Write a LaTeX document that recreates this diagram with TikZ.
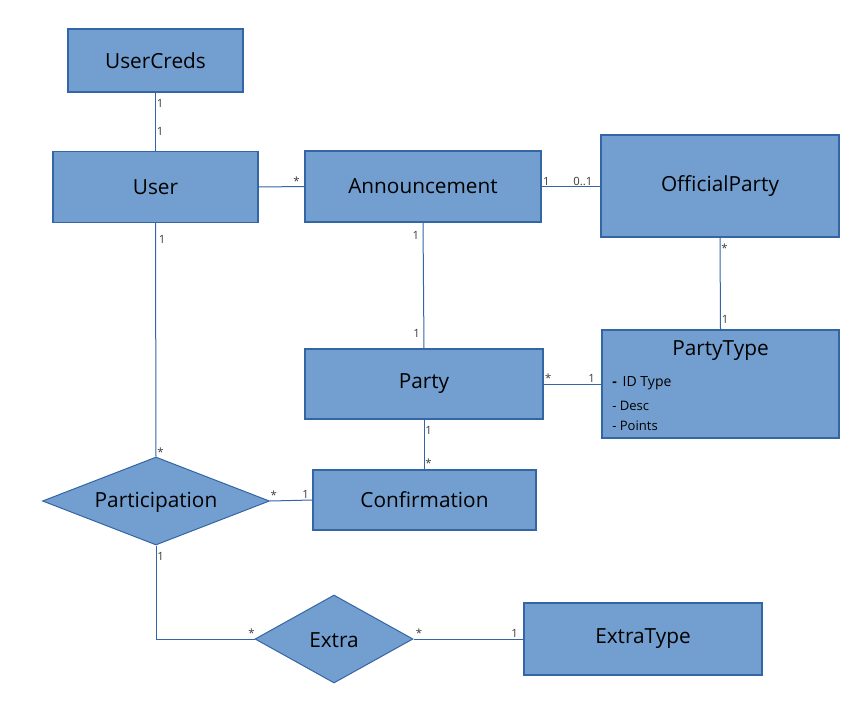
\documentclass[tikz,border=0pt]{standalone}
\usepackage{fontspec}
\setmainfont{Open Sans}
\usetikzlibrary{shapes.geometric}
\definecolor{boxfill}{HTML}{729FCF}
\definecolor{boxline}{HTML}{3465A4}
\definecolor{lblcol}{HTML}{3A3A3A}
\tikzset{
  ent/.style={draw=boxline, fill=boxfill, line width=0.9pt, inner sep=0pt, font=\fontsize{15.6}{18}\selectfont, text=black},
  rel/.style={draw=boxline, fill=boxfill, line width=0.75pt, diamond, inner sep=0pt, font=\fontsize{15.6}{18}\selectfont, text=black},
  conn/.style={draw=boxline, line width=0.75pt},
  lbl/.style={font=\fontsize{8.5}{9}\selectfont, text=lblcol, inner sep=0.6pt}
}
\begin{document}
\begin{tikzpicture}[x=0.75pt, y=-0.75pt]
\useasboundingbox (0,0) rectangle (861,721);
% entities
\node[ent, minimum width=175*0.75pt, minimum height=63*0.75pt] (uc) at (155.5,60.5) {\raisebox{-1pt}{UserCreds}};
\node[ent, minimum width=205*0.75pt, minimum height=71*0.75pt] (user) at (155.5,187) {\raisebox{-1pt}{User}};
\node[ent, minimum width=236*0.75pt, minimum height=71*0.75pt] (ann) at (423,186.5) {\raisebox{-1pt}{Announcement}};
\node[ent, minimum width=238*0.75pt, minimum height=102*0.75pt] (op) at (720,186) {\raisebox{-1pt}{OfficialParty}};
\node[ent, minimum width=238*0.75pt, minimum height=70*0.75pt] (party) at (424,384) {\raisebox{-1pt}{Party}};
\node[ent, minimum width=237*0.75pt, minimum height=108*0.75pt] (pt) at (720.5,384) {};
\node[font=\fontsize{15.6}{18}\selectfont] (pttitle) at (720.5,351) {PartyType};
\node[font=\fontsize{10.5}{12}\selectfont, anchor=west, inner sep=0pt] (ptid) at (612,383) {\textbf{-}\, ID Type};
\node[font=\fontsize{9.8}{11}\selectfont, anchor=west, inner sep=0pt] (ptdesc) at (612,406) {- Desc};
\node[font=\fontsize{9.8}{11}\selectfont, anchor=west, inner sep=0pt] (ptpts) at (612,426) {- Points};
\node[ent, minimum width=223*0.75pt, minimum height=60*0.75pt] (conf) at (424.5,500) {\raisebox{-1pt}{Confirmation}};
\node[ent, minimum width=238*0.75pt, minimum height=72*0.75pt] (et) at (643,639) {\raisebox{-1pt}{ExtraType}};
% relationships
\node[rel, minimum width=227*0.75pt, minimum height=88*0.75pt, aspect=2.58] (part) at (156,501) {};
\node[font=\fontsize{15.6}{18}\selectfont] (partlbl) at (156,502) {Participation};
\node[rel, minimum width=158*0.75pt, minimum height=88*0.75pt, aspect=1.8] (extra) at (334,639) {};
\node[font=\fontsize{15.6}{18}\selectfont] (extralbl) at (334,640) {Extra};
\coordinate (corner) at (156,639);
% connectors
\draw[conn] (uc.south) -- node[lbl, pos=0.18, right] {1} node[lbl, pos=0.67, right] {1} (user.north);
\draw[conn] (user.east) -- node[lbl, pos=0.83, above] {*} (ann.west);
\draw[conn] (ann.east) -- node[lbl, pos=0.08, above] {1} node[lbl, pos=0.7, above] {0..1} (ann.east -| op.west);
\draw[conn] (ann.south) -- node[lbl, pos=0.1, left=2pt] {1} node[lbl, pos=0.88, left=2pt] {1} (party.north);
\draw[conn] (op.south) -- node[lbl, pos=0.12, right] {*} node[lbl, pos=0.89, right] {1} (pt.north);
\draw[conn] (party.east) -- node[lbl, pos=0.08, above] {*} node[lbl, pos=0.83, above] {1} (pt.west);
\draw[conn] (party.south) -- node[lbl, pos=0.22, right] {1} node[lbl, pos=0.88, right] {*} (party.south |- conf.north);
\draw[conn] (user.south) -- node[lbl, pos=0.07, right=1.5pt] {1} node[lbl, pos=0.98, right] {*} (part.north);
\draw[conn] (part.east) -- node[lbl, pos=0.09, above] {*} node[lbl, pos=0.84, above] {1} (conf.west);
\draw[conn] (part.south) -- node[lbl, pos=0.12, right] {1} (corner) -- node[lbl, pos=0.97, above] {*} (extra.west);
\draw[conn] (extra.east) -- node[lbl, pos=0.05, above] {*} node[lbl, pos=0.92, above] {1} (et.west);
\end{tikzpicture}
\end{document}
